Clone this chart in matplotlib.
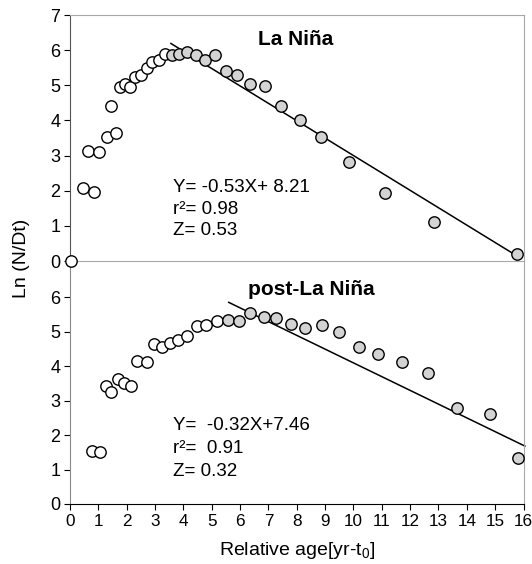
import matplotlib
matplotlib.use("Agg")
import matplotlib.pyplot as plt

plt.rcParams['font.family'] = ['Liberation Sans', 'DejaVu Sans']
plt.rcParams['mathtext.fontset'] = 'custom'
plt.rcParams['mathtext.rm'] = 'Liberation Sans'
plt.rcParams['mathtext.it'] = 'Liberation Sans'

# La Nina cohort: open = growth phase, filled = decline phase used in the fit
la_open_x = [0.02, 0.47, 0.62, 0.86, 1.03, 1.29, 1.43, 1.62, 1.76, 1.95, 2.11,
             2.31, 2.52, 2.70, 2.90, 3.13, 3.35]
la_open_y = [0.0, 2.09, 3.14, 1.97, 3.09, 3.54, 4.42, 3.64, 4.94, 5.04, 4.94,
             5.23, 5.30, 5.49, 5.66, 5.72, 5.89]
la_fill_x = [3.60, 3.85, 4.14, 4.44, 4.78, 5.13, 5.52, 5.89, 6.34, 6.87, 7.45,
             8.11, 8.86, 9.84, 11.13, 12.83, 15.76]
la_fill_y = [5.87, 5.90, 5.96, 5.87, 5.73, 5.87, 5.41, 5.28, 5.03, 4.99, 4.40,
             4.01, 3.54, 2.81, 1.93, 1.12, 0.20]
la_fit_x = [3.56, 15.9]
la_fit_y = [6.19, 0.08]

# post-La Nina cohort
post_open_x = [0.76, 1.06, 1.26, 1.43, 1.70, 1.90, 2.15, 2.38, 2.70, 2.96, 3.25,
               3.54, 3.81, 4.14, 4.48, 4.81, 5.20]
post_open_y = [1.55, 1.52, 3.43, 3.26, 3.63, 3.50, 3.43, 4.16, 4.13, 4.63, 4.55,
               4.66, 4.76, 4.86, 5.15, 5.18, 5.31]
post_fill_x = [5.58, 5.95, 6.36, 6.83, 7.28, 7.79, 8.30, 8.89, 9.48, 10.18, 10.88,
               11.71, 12.64, 13.67, 14.81, 15.81]
post_fill_y = [5.34, 5.31, 5.55, 5.42, 5.39, 5.23, 5.10, 5.18, 4.98, 4.55, 4.34,
               4.11, 3.79, 2.78, 2.61, 1.33]
post_fit_x = [5.60, 16.05]
post_fit_y = [5.85, 1.68]

la_title = "La Niña"
post_title = "post-La Niña"
la_stats = ["Y= -0.53X+ 8.21", "r²= 0.98", "Z= 0.53"]
post_stats = ["Y=  -0.32X+7.46", "r²=  0.91", "Z= 0.32"]

fig = plt.figure(figsize=(5.32, 5.64), dpi=100)
ax2 = fig.add_axes([70/532, (564-504)/564, 453.5/532, 243/564])
ax1 = fig.add_axes([70/532, (564-261)/564, 453.5/532, 246/564])
ax1.patch.set_visible(False)

frame = '#a8a8a8'
mk = dict(marker='o', linestyle='none', markersize=8.2, markeredgecolor='black',
          markeredgewidth=1.0, clip_on=False, zorder=3)

# top panel
ax1.plot(la_fit_x, la_fit_y, color='black', lw=1.1, zorder=2)
ax1.plot(la_open_x, la_open_y, markerfacecolor='white', **mk)
ax1.plot(la_fill_x, la_fill_y, markerfacecolor='#d3d3d3', **mk)
ax1.set_xlim(0, 16)
ax1.set_ylim(0, 7)
ax1.set_yticks(range(0, 8))
ax1.set_xticks([])
for s in ['top', 'right', 'bottom']:
    ax1.spines[s].set_color(frame)
ax1.spines['left'].set_color('#555555')
ax1.tick_params(axis='y', direction='out', length=4, labelsize=13, pad=3)
ax1.text(6.62, 6.3, la_title, fontsize=15, fontweight='bold', va='center')
for i, s in enumerate(la_stats):
    ax1.text(3.63, 2.08 - 0.61*i, s, fontsize=13.5, va='center')

# bottom panel
ax2.plot(post_fit_x, post_fit_y, color='black', lw=1.1, zorder=2, clip_on=False)
ax2.plot(post_open_x, post_open_y, markerfacecolor='white', **mk)
ax2.plot(post_fill_x, post_fill_y, markerfacecolor='#d3d3d3', **mk)
ax2.set_xlim(0, 16)
ax2.set_ylim(0, 7.05)
ax2.set_yticks(range(0, 7))
ax2.set_xticks(range(0, 17))
ax2.spines['top'].set_visible(False)
ax2.spines['right'].set_color(frame)
ax2.spines['left'].set_color('#8a8a8a')
ax2.spines['bottom'].set_color('black')
ax2.tick_params(direction='out', length=4, labelsize=13, pad=3)
ax2.tick_params(axis='x', labelsize=12.3)
ax2.text(6.28, 6.23, post_title, fontsize=15, fontweight='bold', va='center')
for i, s in enumerate(post_stats):
    ax2.text(3.63, 2.29 - 0.67*i, s, fontsize=13.5, va='center')

ax2.set_xlabel("Relative age[yr-t$_0$]", fontsize=14, labelpad=8)
fig.text(22/532, 1 - 258/564, "Ln (N/Dt)", rotation=90, fontsize=14,
         ha='center', va='center')

fig.savefig("out.png", dpi=100)
